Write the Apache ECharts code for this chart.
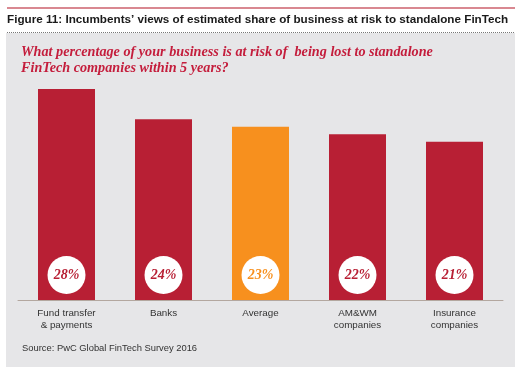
<!DOCTYPE html>
<html>
<head>
<meta charset="utf-8">
<script src="https://cdn.jsdelivr.net/npm/echarts@6/dist/echarts.min.js"></script>
<style>
  html, body { margin: 0; padding: 0; background: #fff; }
  #chart { width: 522px; height: 377px; }
</style>
</head>
<body>
<div id="chart"></div>
<script>
const categories = ['Fund transfer\n& payments', 'Banks', 'Average', 'AM&WM\ncompanies', 'Insurance\ncompanies'];
const shares = [28, 24, 23, 22, 21];
const highlight = 'Average';

const RED = '#b81f34';
const ORANGE = '#f7901e';

const myChart = echarts.init(document.getElementById('chart'));

const barData = shares.map((v, i) => {
    const col = categories[i] === highlight ? ORANGE : RED;
    return {
        value: v,
        itemStyle: { color: col },
        label: { color: col }
    };
});

const option = {
    animation: false,
    backgroundColor: '#fff',
    graphic: [
        { type: 'rect', shape: { x: 7, y: 7, width: 508, height: 2 }, style: { fill: '#d98891' }, z: -10 },
        {
            type: 'text', left: 7, top: 14,
            style: {
                text: 'Figure 11: Incumbents\u2019 views of estimated share of business at risk to standalone FinTech',
                font: 'bold 11.7px "Liberation Sans", Arial, sans-serif', fill: '#1a1a1a'
            }
        },
        {
            type: 'line', shape: { x1: 7, y1: 32.5, x2: 515, y2: 32.5 },
            style: { stroke: '#777', lineWidth: 1, lineDash: [1, 1] }
        },
        { type: 'rect', shape: { x: 6, y: 33, width: 509, height: 334 }, style: { fill: '#e6e6e8' }, z: -20 },
        {
            type: 'text', left: 21, top: 45,
            style: {
                text: 'What percentage of your business is at risk of  being lost to standalone\nFinTech companies within 5 years?',
                font: 'italic bold 14.2px "Liberation Serif", "DejaVu Serif", serif',
                lineHeight: 15.5, fill: '#c41d3c'
            }
        },
        {
            type: 'text', left: 22, top: 344,
            style: {
                text: 'Source: PwC Global FinTech Survey 2016',
                font: '9.4px "Liberation Sans", Arial, sans-serif', fill: '#333'
            }
        }
    ],
    grid: { left: 18, right: 19, top: 89, bottom: 77 },
    xAxis: {
        type: 'category',
        data: categories,
        axisTick: { show: false },
        axisLine: { lineStyle: { color: '#b3a79f', width: 1 } },
        axisLabel: {
            color: '#333', fontSize: 9.8, lineHeight: 12, margin: 7,
            fontFamily: '"Liberation Sans", Arial, sans-serif'
        }
    },
    yAxis: {
        type: 'value', min: 0, max: 28,
        show: false, splitLine: { show: false }
    },
    series: [{
        type: 'bar',
        data: barData,
        barWidth: 57,
        label: {
            show: true,
            position: 'insideBottom',
            distance: 6,
            formatter: '{c}%',
            width: 38, height: 38, lineHeight: 38,
            borderRadius: 19,
            align: 'center',
            backgroundColor: '#fff',
            fontFamily: '"Liberation Serif", "DejaVu Serif", serif',
            fontStyle: 'italic', fontWeight: 'bold', fontSize: 14
        }
    }]
};

myChart.setOption(option);
</script>
</body>
</html>
